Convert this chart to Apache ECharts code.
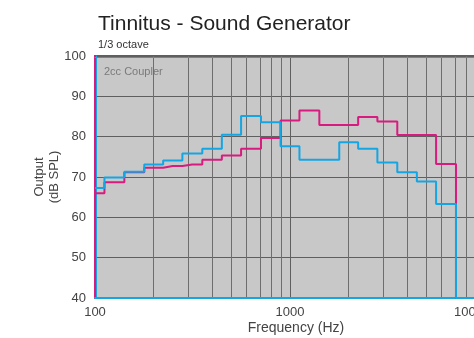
<!DOCTYPE html>
<html><head><meta charset="utf-8">
<script src="https://cdn.jsdelivr.net/npm/echarts@6/dist/echarts.min.js"></script>
<style>html,body{margin:0;padding:0;background:#fff}#c{width:474px;height:338px}</style>
</head><body><div id="c"></div>
<script>
// 1/3-octave band centre frequencies (Hz)
const freqs = [100,125,160,200,250,315,400,500,630,800,1000,1250,1600,2000,2500,3150,4000,5000,6300,8000,10000];
// Output (dB SPL), 2cc coupler
const blueVals = [67.3,69.9,71.3,73.1,74.1,75.8,77.0,80.5,85.1,83.6,77.6,74.3,74.3,78.6,77.0,73.6,71.2,68.9,63.3,40,40];
const pinkVals = [66.0,68.7,71.2,72.3,72.7,73.1,74.3,75.3,77.0,79.7,84.0,86.5,82.9,82.9,84.9,83.75,80.4,80.4,73.2,40,40];
const xTicks = [100,1000,10000];
const yTicks = [40,50,60,70,80,90,100];

const FONT = 'Liberation Sans, Arial, sans-serif';
const BLUE = '#14a5e3', PINK = '#d81b7f';
const pairs = v => freqs.map((f,i)=>[f,v[i]]);

const chart = echarts.init(document.getElementById('c'));
chart.setOption({
  animation:false,
  backgroundColor:'#fff',
  title:{text:'Tinnitus - Sound Generator', subtext:'1/3 octave', left:93, top:9,
    itemGap:4,
    textStyle:{fontFamily:FONT,fontSize:21,fontWeight:'normal',color:'#222'},
    subtextStyle:{fontFamily:FONT,fontSize:11,color:'#333'}},
  graphic:[{type:'text', left:104, top:66, style:{text:'2cc Coupler', font:'11px '+FONT, fill:'#7a7a7a'}}],
  grid:{left:95, top:56, width:390, bottom:40, show:true, backgroundColor:'#c8c8c8',
    borderColor:PINK, borderWidth:2, containLabel:false, outerBoundsMode:'none'},
  xAxis:[{type:'log', logBase:10, min:100, max:10000, position:'bottom',
    axisLine:{show:true, lineStyle:{color:BLUE,width:2}},
    axisTick:{show:false},
    axisLabel:{fontFamily:FONT,fontSize:13,color:'#444',margin:8,
      formatter:v=>{const r=Math.round(v); if(!xTicks.includes(r)) return '';
        return r===xTicks[xTicks.length-1] ? '{s|'+r+'}' : String(r);},
      rich:{s:{fontFamily:FONT,fontSize:13,color:'#444',padding:[0,26,0,0]}}},
    splitLine:{show:true,lineStyle:{color:'#5f5f5f',width:1}},
    minorTick:{show:false, splitNumber:9},
    minorSplitLine:{show:true,lineStyle:{color:'#6e6e6e',width:1}},
    name:'Frequency (Hz)', nameLocation:'middle', nameGap:23, nameMoveOverlap:false,
    nameTextStyle:{fontFamily:FONT,fontSize:14,color:'#444',padding:[0,0,0,12]}},
   {type:'log', logBase:10, min:100, max:10000, position:'top', offset:-1,
    axisLine:{show:true, lineStyle:{color:BLUE,width:1}},
    axisTick:{show:false}, axisLabel:{show:false}, splitLine:{show:false}}],
  yAxis:{type:'value', min:40, max:100, interval:10, offset:-1,
    axisLine:{show:true, lineStyle:{color:BLUE,width:1}},
    axisTick:{show:false},
    axisLabel:{fontFamily:FONT,fontSize:13,color:'#444',margin:10,
      formatter:v=> yTicks.includes(v)?String(v):''},
    splitLine:{show:true,lineStyle:{color:'#5f5f5f',width:1}},
    name:'Output\n(dB SPL)', nameLocation:'middle', nameGap:34, nameRotate:90, nameMoveOverlap:false,
    nameTextStyle:{fontFamily:FONT,fontSize:13,color:'#444',lineHeight:15}},
  series:[
    {type:'line', step:'middle', data:pairs(pinkVals), symbol:'none', clip:true,
     lineStyle:{color:PINK,width:2}, z:3},
    {type:'line', step:'middle', data:pairs(blueVals), symbol:'none', clip:true,
     lineStyle:{color:BLUE,width:2}, z:4}
  ]
});
</script></body></html>
